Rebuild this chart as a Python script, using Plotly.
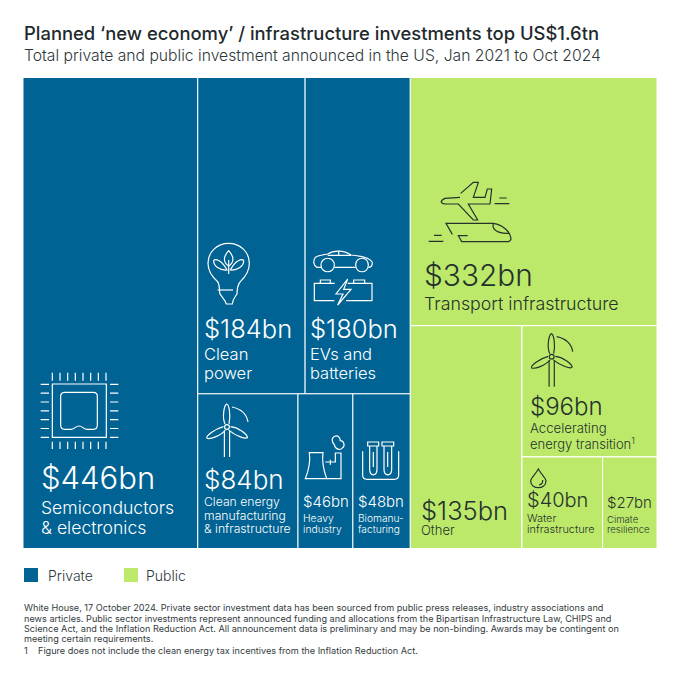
"""Planned new-economy investment treemap, US, Jan 2021 to Oct 2024."""

import math
import re

import plotly.graph_objects as go

# treemap hierarchy, the group nodes only steer the slice-dice split
cell_ids = [
    "all", "private", "private_wrap", "semis", "private_rest", "private_top", "clean_power", "evs",
    "private_low", "clean_mfg", "heavy", "bio",
    "public", "transport", "public_rest", "other", "public_right", "energy", "public_low",
    "water", "climate",
]
cell_parents = [
    "", "all", "private", "private_wrap", "private_wrap", "private_rest", "private_top", "private_top",
    "private_rest", "private_low", "private_low", "private_low",
    "all", "public", "public", "public_rest", "public_rest", "public_right", "public_right",
    "public_low", "public_low",
]
cell_values = [
    0, 0, 0, 446, 0, 0, 184, 180,
    0, 84, 46, 48,
    0, 332, 0, 135, 0, 96, 0,
    40, 27,
]

BLUE = "#006393"
GREEN = "#BDE96B"
DARK = "#25332C"
FONT = "Inter"

cell_colors = ["#ffffff"] + [BLUE] * 11 + [GREEN] * 9

fig = go.Figure(
    go.Treemap(
        ids=cell_ids,
        labels=cell_ids,
        parents=cell_parents,
        values=cell_values,
        branchvalues="remainder",
        sort=False,
        textinfo="none",
        hoverinfo="skip",
        pathbar={"visible": False},
        tiling={"packing": "slice-dice", "pad": 0},
        marker={
            "colors": cell_colors,
            "line": {"color": "#ffffff", "width": 1},
            "pad": {"t": 0, "l": 0, "r": 0, "b": 0},
        },
        domain={"x": [23 / 680, 657 / 680], "y": [1 - 548.5 / 680, 1 - 77.5 / 680]},
    )
)

annotations = []
shapes = []


def add_text(x, y, text, size, color=DARK, weight=400):
    # x is the left edge, y the line centre, both in page pixels
    annotations.append(
        dict(
            x=(x - 1.5) / 680, y=1 - y / 680, xref="paper", yref="paper",
            xanchor="left", yanchor="middle", showarrow=False, borderpad=0,
            align="left", text=text,
            font={"family": FONT, "size": size, "color": color, "weight": weight},
        )
    )


def add_icon(path, ox, oy, color, scale=1 / 3, width=1.2):
    # path is written in crop pixels, moved to the page and then to paper fractions
    def conv(m):
        x = ox + float(m.group(1)) * scale
        y = oy + float(m.group(2)) * scale
        return f"{x / 680:.5f},{1 - y / 680:.5f}"

    shapes.append(
        dict(
            type="path", xref="paper", yref="paper",
            path=re.sub(r"(-?\d+\.?\d*),(-?\d+\.?\d*)", conv, path),
            line={"color": color, "width": width}, layer="above",
        )
    )


def add_turbine(cx, cy, color):
    blade = [(-2, -3), (-5, -10), (-3, -21), (-0.5, -23), (2, -23), (4, -12), (2, -3)]
    for angle in (0, 118, -118):
        c, s = math.cos(math.radians(angle)), math.sin(math.radians(angle))
        p = [f"{cx + x * c - y * s:.2f},{cy + x * s + y * c:.2f}" for x, y in blade]
        add_icon(f"M {p[0]} C {p[1]} {p[2]} {p[3]} C {p[4]} {p[5]} {p[6]}", 0, 0, color, 1)
    add_icon(
        f"M {cx + 2.4},{cy} C {cx + 2.4},{cy - 3.2} {cx - 2.4},{cy - 3.2} {cx - 2.4},{cy} "
        f"C {cx - 2.4},{cy + 3.2} {cx + 2.4},{cy + 3.2} {cx + 2.4},{cy} Z",
        0, 0, color, 1,
    )
    add_icon(f"M {cx - 2.6},{cy + 4} L {cx - 2.6},{cy + 30} M {cx + 2.6},{cy + 4} L {cx + 2.6},{cy + 30}",
             0, 0, color, 1)
    add_icon(f"M {cx + 5},{cy - 20} Q {cx + 19},{cy - 17} {cx + 21},{cy - 5}", 0, 0, color, 1)


# header
add_text(24, 33, "Planned ‘new economy’ / infrastructure investments top US$1.6tn", 18.4, "#1E2A2E", 500)
add_text(24, 55, "Total private and public investment announced in the US, Jan 2021 to Oct 2024", 15.7, "#2D373B", 300)

# cell labels
W = "#ffffff"
add_text(41, 478, "$446bn", 31, W, 300)
add_text(41, 507, "Semiconductors", 17.6, W, 300)
add_text(41, 527, "& electronics", 17.6, W, 300)

add_text(204, 328, "$184bn", 25.5, W, 300)
add_text(204, 354, "Clean", 16.5, W, 300)
add_text(204, 373, "power", 16.5, W, 300)

add_text(310, 328, "$180bn", 25.5, W, 300)
add_text(310, 354, "EVs and", 16.5, W, 300)
add_text(310, 373, "batteries", 16.5, W, 300)

add_text(204, 479, "$84bn", 26, W, 300)
add_text(204, 501, "Clean energy", 12.2, W, 300)
add_text(204, 515, "manufacturing", 12.2, W, 300)
add_text(204, 528, "& infrastructure", 12.2, W, 300)

add_text(303, 501, "$46bn", 15, W, 300)
add_text(303, 518, "Heavy", 10.3, W, 300)
add_text(303, 529, "industry", 10.3, W, 300)

add_text(358, 501, "$48bn", 15, W, 300)
add_text(358, 518, "Biomanu-", 10.2, W, 300)
add_text(358, 529, "facturing", 10.2, W, 300)

add_text(424, 275, "$332bn", 29.8, DARK, 300)
add_text(424, 303, "Transport infrastructure", 17.8, DARK, 300)

add_text(530, 406, "$96bn", 24, DARK, 300)
add_text(530, 428, "Accelerating", 13.2, DARK, 300)
add_text(530, 443, "energy transition<sup>1</sup>", 13, DARK, 300)

add_text(421, 510, "$135bn", 25.5, DARK, 300)
add_text(421, 530, "Other", 13, DARK, 300)

add_text(527, 500, "$40bn", 20, DARK, 300)
add_text(527, 517.5, "Water", 10.9, DARK, 300)
add_text(527, 529, "infrastructure", 10.9, DARK, 300)

add_text(607, 502, "$27bn", 15, DARK, 300)
add_text(607, 519, "Cimate", 9.6, DARK, 300)
add_text(607, 529, "resilience", 9.6, DARK, 300)

# legend
for x0, tx, color, name in ((24, 48, BLUE, "Private"), (124, 146, GREEN, "Public")):
    shapes.append(
        dict(
            type="rect", xref="paper", yref="paper",
            x0=x0 / 680, x1=(x0 + 14) / 680, y0=1 - 582 / 680, y1=1 - 568 / 680,
            fillcolor=color, line={"width": 0},
        )
    )
    add_text(tx, 575, name, 14, "#2D373B", 300)

# footnotes
foot_lines = [
    (607, "White House, 17 October 2024. Private sector investment data has been sourced from public press releases, industry associations and"),
    (618, "news articles. Public sector investments represent announced funding and allocations from the Bipartisan Infrastructure Law, CHIPS and"),
    (628, "Science Act, and the Inflation Reduction Act. All announcement data is preliminary and may be non-binding. Awards may be contingent on"),
    (638, "meeting certain requirements."),
]
for y, line in foot_lines:
    add_text(24, y, line, 9.15, "#333b3e", 400)
add_text(24, 650, "1", 9.15, "#333b3e", 400)
add_text(38, 650, "Figure does not include the clean energy tax incentives from the Inflation Reduction Act.", 9.15, "#333b3e", 400)

# chip
add_icon("M 85,102 L 247,102 L 247,262 L 85,262 Z", 24, 350, W)
add_icon(
    "M 122,127 L 208,127 Q 220,127 220,139 L 220,225 Q 220,238 208,238 L 190,238 "
    "C 178,238 176,228 165,228 C 154,228 152,238 140,238 L 122,238 Q 110,238 110,225 "
    "L 110,139 Q 110,127 122,127 Z",
    24, 350, W,
)
for i in range(8):
    px = 85 + i * 23
    add_icon(f"M {px},68 L {px},92 M {px},275 L {px},297", 24, 350, W)
for i in range(7):
    py = 103 + i * 26.5
    add_icon(f"M 50,{py} L 75,{py} M 258,{py} L 283,{py}", 24, 350, W)

# bulb
add_icon(
    "M 62,155 C 42,138 33,120 33,100 C 33,66 60,40 95,40 C 130,40 157,66 157,100 "
    "C 157,120 148,138 130,155 C 122,165 120,175 120,192 C 115,200 108,205 106,222 "
    "L 88,222 C 85,208 72,200 68,190 C 68,175 68,165 62,155 Z",
    197, 230, W,
)
add_icon("M 62,180 L 108,180", 197, 230, W)
add_icon("M 95,62 C 78,80 78,98 95,108 C 112,98 112,80 95,62 Z", 197, 230, W)
add_icon("M 95,132 L 95,90", 197, 230, W)
add_icon("M 90,120 C 75,92 55,84 50,92 C 50,108 68,122 90,120 Z", 197, 230, W)
add_icon("M 100,120 C 115,92 135,84 140,92 C 140,108 122,122 100,120 Z", 197, 230, W)

# car and battery
add_icon(
    "M 375,112 L 360,112 C 350,108 347,92 355,82 C 365,76 378,74 392,72 C 410,60 440,60 462,75 "
    "C 490,78 520,82 526,98 C 526,108 522,112 514,112 M 476,112 L 412,112",
    197, 230, W,
)
add_icon("M 372,105 C 372,132 412,132 412,105 C 412,78 372,78 372,105 Z", 197, 230, W)
add_icon("M 476,105 C 476,132 514,132 514,105 C 514,78 476,78 476,105 Z", 197, 230, W)
add_icon("M 392,76 L 462,76 M 425,62 L 425,76", 197, 230, W)
add_icon("M 413,160 L 352,160 L 352,212 L 412,212 M 370,160 L 370,150 L 400,150 L 400,160", 197, 230, W)
add_icon("M 452,160 L 525,160 L 525,212 L 447,212 M 470,160 L 470,150 L 503,150 L 503,160", 197, 230, W)
add_icon("M 452,147 L 417,192 L 438,192 L 422,225 L 462,178 L 440,178 Z", 197, 230, W)

# turbines
add_turbine(227, 427, W)
add_turbine(551.7, 356.7, DARK)

# cooling tower and stack
add_icon("M 337,182 L 378,182 C 374,210 380,235 389,260 L 325,260 C 335,235 341,210 337,182 Z", 197, 392, W)
add_icon("M 389,260 L 432,260 L 432,183 L 415,183 L 415,210 L 385,210 M 400,203 L 400,218", 197, 392, W)
add_icon(
    "M 415,132 C 402,136 404,150 412,158 C 414,172 430,176 436,168 C 446,160 440,146 430,146 "
    "C 430,138 424,130 415,132 Z",
    197, 392, W,
)

# test tubes
add_icon("M 497,178 L 497,250 Q 497,262 510,262 L 592,262 Q 605,262 605,250 L 605,178", 197, 392, W)
add_icon("M 512,150 L 545,150 L 545,162 L 512,162 Z M 555,150 L 590,150 L 590,162 L 555,162 Z", 197, 392, W)
add_icon("M 518,162 L 518,232 C 518,254 540,254 540,232 L 540,162", 197, 392, W)
add_icon("M 561,162 L 561,232 C 561,254 584,254 584,232 L 584,162", 197, 392, W)
add_icon("M 529,180 L 529,225 M 572,180 L 572,225", 197, 392, W)

# plane and train
add_icon(
    "M 152,70 L 190,37 L 205,37 L 190,82 L 225,82 L 232,57 L 245,57 L 240,102 L 175,102 "
    "L 203,150 L 190,150 L 145,102 L 105,102 C 90,100 90,92 105,85 L 150,82",
    410, 170, DARK,
)
add_icon("M 268,84 L 290,84 M 254,101 L 298,101", 410, 170, DARK)
add_icon(
    "M 127,193 L 108,160 L 250,160 C 280,165 300,185 303,205 C 303,213 298,215 292,215 "
    "L 155,215 L 145,197 L 173,197",
    410, 170, DARK,
)
add_icon("M 250,160 C 245,178 262,192 297,190", 410, 170, DARK)
add_icon("M 72,196 L 95,196 M 56,214 L 100,214", 410, 170, DARK)

# water drop
add_icon(
    "M 385,447 C 375,465 362,475 362,483 C 362,496 373,503 385,503 "
    "C 397,503 408,496 408,483 C 408,475 395,465 385,447 Z",
    410, 320, DARK,
)
add_icon("M 398,480 C 399,490 392,494 387,495", 410, 320, DARK)

fig.update_layout(
    width=680,
    height=680,
    autosize=False,
    margin={"l": 0, "r": 0, "t": 0, "b": 0},
    paper_bgcolor="#ffffff",
    annotations=annotations,
    shapes=shapes,
    showlegend=False,
)

fig.write_html(
    "out.html",
    config={"displayModeBar": False},
    post_script="document.body.style.margin='0';",
)
